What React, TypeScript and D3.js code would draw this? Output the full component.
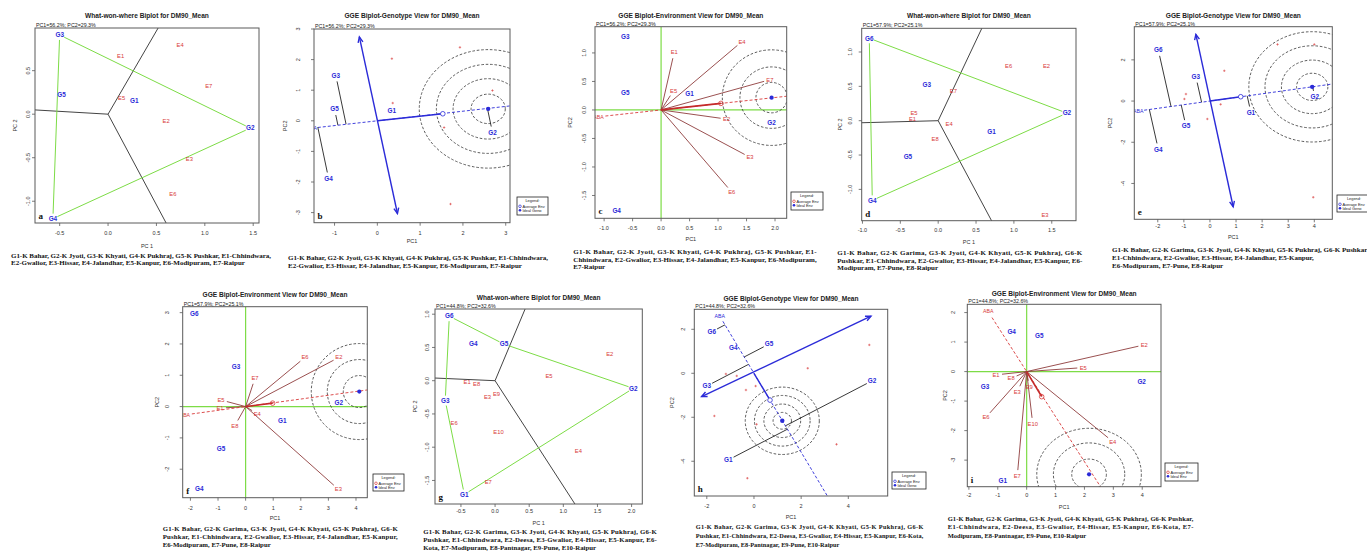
import React from 'react';
import * as d3 from 'd3';

type XY = [number, number];
type Lab = [string, number, number];

const SANS = 'Liberation Sans, Arial, sans-serif';
const SERIF = 'Liberation Serif, Times New Roman, serif';
const BLUE = '#2b2bd8';
const RED = '#d83a3a';
const BROWN = '#8e3c3c';
const GREEN = '#7ddc46';
const GREY = '#444';

const T_WWW = 'What-won-where Biplot for DM90_Mean';
const T_GEN = 'GGE Biplot-Genotype View for DM90_Mean';
const T_ENV = 'GGE Biplot-Environment View for DM90_Mean';
const PC_1 = 'PC1=56.2%; PC2=29.3%';
const PC_2 = 'PC1=57.9%; PC2=25.1%';
const PC_3 = 'PC1=44.8%; PC2=32.6%';

// ---- panel a : what-won-where, trial set 1
const aGeno: Lab[] = [['G3', -0.5, 0.91], ['G5', -0.48, 0.22], ['G1', 0.27, 0.15], ['G2', 1.47, -0.16], ['G4', -0.57, -1.2]];
const aHull = ['G3', 'G2', 'G4'];
const aRays: XY[] = [[0.507, 0.97], [-0.757, 0.049], [0.6, -1.25]];
const aEnv: Lab[] = [['E4', 0.745, 0.8], ['E1', 0.13, 0.67], ['E7', 1.04, 0.32], ['E5', 0.14, 0.19], ['E2', 0.6, -0.08], ['E3', 0.84, -0.52], ['E6', 0.67, -0.92]];

// ---- panel b : genotype view, trial set 1
const bGeno: Lab[] = [['G3', -0.97, 1.48], ['G5', -1.0, 0.38], ['G1', 0.34, 0.34], ['G2', 2.69, -0.38], ['G4', -1.14, -1.88]];
const bAea: XY = [-1.53, -0.24];
const bAvg: XY = [1.53, 0.23];
const bIdeal: XY = [2.59, 0.39];
const bOrd: XY[] = [[-0.42, 2.74], [0.47, -3.03]];
const bEnvPts: XY[] = [[0.34, 2.03], [1.93, 2.4], [0.36, 0.58], [2.69, 0.99], [1.56, -0.22], [1.71, -2.72]];
const bRings = [0.4, 0.82, 1.21, 1.61];

// ---- panel c : environment view, trial set 1
const cEnv: Lab[] = [['E1', 0.23, 1.01], ['E4', 1.42, 1.2], ['E7', 1.91, 0.53], ['E5', 0.22, 0.34], ['E2', 1.15, -0.16], ['E3', 1.56, -0.83], ['E6', 1.24, -1.44]];
const cGeno: Lab[] = [['G3', -0.63, 1.29], ['G5', -0.63, 0.3], ['G1', 0.5, 0.28], ['G2', 1.94, -0.23], ['G4', -0.78, -1.77]];
const cAea: XY = [-1.1, -0.12];
const cAvg: XY = [1.05, 0.115];
const cIdeal: XY = [1.94, 0.216];
const cRings = [0.275, 0.556, 0.865];

// ---- panel d : what-won-where, trial set 2
const dGeno: Lab[] = [['G6', -0.91, 1.2], ['G3', -0.15, 0.52], ['G2', 1.7, 0.11], ['G1', 0.705, -0.16], ['G5', -0.4, -0.53], ['G4', -0.87, -1.16]];
const dHull = ['G6', 'G2', 'G4'];
const dRays: XY[] = [[0.57, 1.33], [-1.01, -0.03], [0.705, -1.456]];
const dEnv: Lab[] = [['E6', 0.93, 0.8], ['E2', 1.43, 0.8], ['E7', 0.2, 0.43], ['E5', -0.32, 0.11], ['E1', -0.34, 0.025], ['E4', 0.145, -0.05], ['E8', -0.04, -0.27], ['E3', 1.41, -1.37]];

// ---- panel e : genotype view, trial set 2
const eGeno: Lab[] = [['G6', -1.98, 2.48], ['G3', -0.54, 1.18], ['G5', -0.92, -1.21], ['G4', -1.98, -2.34], ['G1', 1.57, -0.55], ['G2', 4.02, 0.21]];
const eAea: XY = [-2.75, -0.485];
const eAvg: XY = [1.18, 0.21];
const eIdeal: XY = [3.92, 0.69];
const eOrd: XY[] = [[-0.54, 3.24], [0.89, -5.13]];
const eEnvPts: XY[] = [[2.59, 2.75], [4.0, 2.75], [0.55, 1.47], [-0.92, 0.34], [-0.98, 0.1], [0.41, -0.16], [-0.1, -0.87], [3.96, -4.67]];
const eRings = [0.6, 1.18, 1.81, 2.43];

// ---- panel f : environment view, trial set 2
const fEnv: Lab[] = [['E6', 2.15, 1.57], ['E2', 3.38, 1.57], ['E7', 0.34, 0.91], ['E5', -0.89, 0.21], ['E1', -0.93, -0.05], ['E4', 0.42, -0.23], ['E8', -0.39, -0.61], ['E3', 3.36, -2.64]];
const fGeno: Lab[] = [['G6', -1.86, 2.95], ['G3', -0.35, 1.28], ['G1', 1.33, -0.45], ['G2', 3.38, 0.13], ['G5', -0.89, -1.35], ['G4', -1.68, -2.63]];
const fAea: XY = [-2.2, -0.265];
const fAvg: XY = [0.98, 0.11];
const fIdeal: XY = [4.12, 0.48];
const fRings = [0.58, 1.16, 1.74];

// ---- panel g : what-won-where, trial set 3
const gGeno: Lab[] = [['G6', -0.67, 0.97], ['G4', -0.32, 0.55], ['G5', 0.13, 0.55], ['G3', -0.73, -0.3], ['G2', 2.025, -0.115], ['G1', -0.45, -1.71]];
const gHull = ['G6', 'G5', 'G2', 'G1', 'G3'];
const gRays: XY[] = [[0.44, 1.078], [-0.88, 0.04], [1.17, -1.854]];
const gEnv: Lab[] = [['E2', 1.68, 0.4], ['E5', 0.79, 0.07], ['E1', -0.41, -0.015], ['E8', -0.27, -0.05], ['E3', -0.11, -0.25], ['E9', 0.02, -0.2], ['E6', -0.6, -0.64], ['E10', 0.05, -0.77], ['E4', 1.22, -1.05], ['E7', -0.1, -1.53]];

// ---- panel h : genotype view, trial set 3
const hGeno: Lab[] = [['G6', -1.79, 1.89], ['G4', -0.88, 1.18], ['G5', 0.64, 1.33], ['G3', -2.0, -0.58], ['G2', 5.01, -0.34], ['G1', -1.09, -3.94]];
const hAea: XY = [-1.45, 2.6];
const hAvg: XY = [0.68, -1.22];
const hIdeal: XY = [1.2, -2.16];
const hOrd: XY[] = [[4.96, 2.6], [-2.22, -1.06]];
const hEnvPts: XY[] = [[4.89, 1.29], [2.28, 0.23], [-1.19, -0.03], [-0.73, -0.12], [0.07, -0.58], [-0.34, -0.76], [-1.68, -1.94], [0.11, -2.32], [3.5, -3.23], [-0.28, -4.77]];
const hRings = [0.39, 0.78, 1.18, 1.57];

// ---- panel i : environment view, trial set 3
const iEnv: Lab[] = [['E2', 4.07, 0.905], ['E5', 1.96, 0.135], ['E1', -1.06, -0.11], ['E8', -0.54, -0.23], ['E9', 0.09, -0.51], ['E3', -0.325, -0.68], ['E6', -1.41, -1.55], ['E10', 0.21, -1.77], ['E7', -0.325, -3.54], ['E4', 2.98, -2.37]];
const iGeno: Lab[] = [['G4', -0.52, 1.36], ['G5', 0.44, 1.22], ['G3', -1.44, -0.51], ['G2', 3.98, -0.34], ['G1', -0.83, -3.69]];
const iAea: XY = [-1.33, 2.03];
const iAvg: XY = [0.52, -0.85];
const iIdeal: XY = [2.16, -3.48];
const iRings = [0.6, 1.235, 1.81];

// ---- captions
const capAB = ['G1-K Bahar, G2-K Jyoti, G3-K Khyati, G4-K Pukhraj, G5-K Pushkar, E1-Chhindwara,', 'E2-Gwalior, E3-Hissar, E4-Jalandhar, E5-Kanpur, E6-Modipuram, E7-Raipur'];
const capC = ['G1-K Bahar, G2-K Jyoti, G3-K Khyati, G4-K Pukhraj, G5-K Pushkar, E1-', 'Chhindwara, E2-Gwalior, E3-Hissar, E4-Jalandhar, E5-Kanpur, E6-Modipuram,', 'E7-Raipur'];
const capD = ['G1-K Bahar, G2-K Garima, G3-K Jyoti, G4-K Khyati, G5-K Pukhraj, G6-K', 'Pushkar, E1-Chhindwara, E2-Gwalior, E3-Hissar, E4-Jalandhar, E5-Kanpur, E6-', 'Modipuram, E7-Pune, E8-Raipur'];
const capE = ['G1-K Bahar, G2-K Garima, G3-K Jyoti, G4-K Khyati, G5-K Pukhraj, G6-K Pushkar', 'E1-Chhindwara, E2-Gwalior, E3-Hissar, E4-Jalandhar, E5-Kanpur,', 'E6-Modipuram, E7-Pune, E8-Raipur'];
const capF = ['G1-K Bahar, G2-K Garima, G3-K Jyoti, G4-K Khyati, G5-K Pukhraj, G6-K', 'Pushkar, E1-Chhindwara, E2-Gwalior, E3-Hissar, E4-Jalandhar, E5-Kanpur,', 'E6-Modipuram, E7-Pune, E8-Raipur'];
const capG = ['G1-K Bahar, G2-K Garima, G3-K Jyoti, G4-K Khyati, G5-K Pukhraj, G6-K', 'Pushkar, E1-Chhindwara, E2-Deesa, E3-Gwalior, E4-Hissar, E5-Kanpur, E6-', 'Kota, E7-Modipuram, E8-Pantnagar, E9-Pune, E10-Raipur'];
const capH = ['G1-K Bahar, G2-K Garima, G3-K Jyoti, G4-K Khyati, G5-K Pukhraj, G6-K', 'Pushkar, E1-Chhindwara, E2-Deesa, E3-Gwalior, E4-Hissar, E5-Kanpur, E6-Kota,', 'E7-Modipuram, E8-Pantnagar, E9-Pune, E10-Raipur'];
const capI = ['G1-K Bahar, G2-K Garima, G3-K Jyoti, G4-K Khyati, G5-K Pukhraj, G6-K Pushkar,', 'E1-Chhindwara, E2-Deesa, E3-Gwalior, E4-Hissar, E5-Kanpur, E6-Kota, E7-', 'Modipuram, E8-Pantnagar, E9-Pune, E10-Raipur'];

// ---- layout (pixels)
const LAY: any = {
  a: { box: [35, 28, 259, 223], xd: [-0.755, 1.56], yd: [-1.25, 0.99], xt: [-0.5, 0, 0.5, 1, 1.5], yt: [-1, -0.5, 0, 0.5], dec: true, xlab: 'PC 1', ylab: 'PC 2', title: T_WWW, pc: PC_1, xtY: 233, ytX: 28, xlY: 246.5, ylX: 15, tY: 16, letter: 'a' },
  b: { box: [314, 29, 510, 222.7], xd: [-1.48, 3.1], yd: [-3.33, 3.0], xt: [-1, 0, 1, 2, 3], yt: [-3, -2, -1, 0, 1, 2, 3], dec: false, xlab: 'PC1', ylab: 'PC2', title: T_GEN, pc: PC_1, xtY: 233, ytX: 298, xlY: 241, ylX: 285, tY: 16, letter: 'b' },
  c: { box: [595, 26.7, 786.7, 218.3], xd: [-1.16, 2.205], yd: [-1.9, 1.46], xt: [-1, -0.5, 0, 0.5, 1, 1.5, 2], yt: [-1.5, -1, -0.5, 0, 0.5, 1], dec: true, xlab: 'PC1', ylab: 'PC2', title: T_ENV, pc: PC_1, xtY: 227.7, ytX: 584, xlY: 239.5, ylX: 570, tY: 15.7, letter: 'c' },
  d: { box: [861.7, 28.3, 1076, 220.7], xd: [-1.01, 1.82], yd: [-1.456, 1.345], xt: [-1, -0.5, 0, 0.5, 1, 1.5], yt: [-1, -0.5, 0, 0.5, 1], dec: true, xlab: 'PC 1', ylab: 'PC 2', title: T_WWW, pc: PC_2, xtY: 230, ytX: 850, xlY: 242, ylX: 840, tY: 16, letter: 'd' },
  e: { box: [1134.3, 26.7, 1332.3, 219.3], xd: [-2.9, 4.69], yd: [-5.74, 3.61], xt: [-2, -1, 0, 1, 2, 3, 4], yt: [-4, -2, 0, 2], dec: false, xlab: 'PC1', ylab: 'PC2', title: T_GEN, pc: PC_2, xtY: 226, ytX: 1123.3, xlY: 236.7, ylX: 1110, tY: 15.7, letter: 'e' },
  f: { box: [182.7, 306.7, 367.3, 497.7], xd: [-2.28, 4.41], yd: [-2.91, 3.19], xt: [-2, -1, 0, 1, 2, 3, 4], yt: [-2, -1, 0, 1, 2, 3], dec: false, xlab: 'PC1', ylab: 'PC2', title: T_ENV, pc: PC_2, xtY: 508.3, ytX: 167.3, xlY: 518.3, ylX: 157.3, tY: 294.3, letter: 'f' },
  g: { box: [435, 309, 642.3, 504], xd: [-0.88, 2.157], yd: [-1.854, 1.078], xt: [-0.5, 0, 0.5, 1, 1.5, 2], yt: [-1.5, -1, -0.5, 0, 0.5, 1], dec: true, xlab: 'PC 1', ylab: 'PC 2', title: T_WWW, pc: PC_3, xtY: 510.7, ytX: 426.7, xlY: 523.3, ylX: 415, tY: 297.7, letter: 'g' },
  h: { box: [694.3, 309.3, 887.7, 496], xd: [-2.53, 5.67], yd: [-5.58, 2.91], xt: [-2, 0, 2, 4], yt: [-4, -2, 0, 2], dec: false, xlab: 'PC1', ylab: 'PC2', title: T_GEN, pc: PC_3, xtY: 506, ytX: 683.3, xlY: 516.7, ylX: 672.3, tY: 298.3, letter: 'h' },
  i: { box: [967.3, 304.3, 1161, 486.7], xd: [-2.055, 4.65], yd: [-3.9, 2.28], xt: [-2, -1, 0, 1, 2, 3, 4], yt: [-3, -2, -1, 0, 1, 2], dec: false, xlab: 'PC1', ylab: 'PC2', title: T_ENV, pc: PC_3, xtY: 495, ytX: 953.3, xlY: 506.7, ylX: 945, tY: 293.3, letter: 'i' },
};

const CAPS = [
  { lines: capAB, x: 11, w: 260, ys: [257.5, 265], fs: 7, just: true },
  { lines: capAB, x: 288, w: 260, ys: [260, 267.5], fs: 7, just: true },
  { lines: capC, x: 573.3, w: 243.4, ys: [253.8, 261.5, 268.8], fs: 7, just: true },
  { lines: capD, x: 837.3, w: 245, ys: [254.5, 262.5, 270], fs: 7, just: true },
  { lines: capE, x: 1112, w: 0, ys: [252, 259.5, 267.5], fs: 7, just: false },
  { lines: capF, x: 162.7, w: 235, ys: [530.8, 538.5, 546.5], fs: 6.8, just: true },
  { lines: capG, x: 423.3, w: 233.4, ys: [534, 542.3, 549.8], fs: 6.8, just: true },
  { lines: capH, x: 695.7, w: 227.6, ys: [529, 537.8, 546.5], fs: 6.3, just: true },
  { lines: capI, x: 947.7, w: 245.6, ys: [520.8, 529.2, 537.5], fs: 6.5, just: true },
];

function trim(a: XY, b: XY, ga: number, gb: number) {
  const dx = b[0] - a[0], dy = b[1] - a[1];
  const L = Math.hypot(dx, dy) || 1;
  return { x1: a[0] + (dx * ga) / L, y1: a[1] + (dy * ga) / L, x2: b[0] - (dx * gb) / L, y2: b[1] - (dy * gb) / L };
}

function head(tip: XY, from: XY, len = 6, ang = 0.42) {
  const a = Math.atan2(tip[1] - from[1], tip[0] - from[0]);
  const p1 = [tip[0] - len * Math.cos(a - ang), tip[1] - len * Math.sin(a - ang)];
  const p2 = [tip[0] - len * Math.cos(a + ang), tip[1] - len * Math.sin(a + ang)];
  return `M${p1[0]},${p1[1]}L${tip[0]},${tip[1]}L${p2[0]},${p2[1]}`;
}

function Panel({ L, children }: { L: any; children: (x: any, y: any) => React.ReactNode }) {
  const [x0, y0, x1, y1] = L.box;
  const x = d3.scaleLinear().domain(L.xd).range([x0, x1]);
  const y = d3.scaleLinear().domain(L.yd).range([y1, y0]);
  const fmt = (v: number) => (L.dec ? v.toFixed(1) : String(v));
  const cx = (x0 + x1) / 2, cy = (y0 + y1) / 2;
  const id = 'clip-' + L.letter;
  return (
    <g fontFamily={SANS}>
      <clipPath id={id}>
        <rect x={x0} y={y0} width={x1 - x0} height={y1 - y0} />
      </clipPath>
      <g clipPath={`url(#${id})`}>{children(x, y)}</g>
      <rect x={x0} y={y0} width={x1 - x0} height={y1 - y0} fill="none" stroke="#5a5a5a" strokeWidth={1} />
      {L.xt.map((v: number) => (
        <g key={'x' + v}>
          <line x1={x(v)} x2={x(v)} y1={y1} y2={y1 + 3} stroke="#5a5a5a" strokeWidth={0.8} />
          <text x={x(v)} y={L.xtY} dy="0.35em" textAnchor="middle" fontSize={5.5} fill="#333">{fmt(v)}</text>
        </g>
      ))}
      {L.yt.map((v: number) => (
        <g key={'y' + v}>
          <line x1={x0 - 3} x2={x0} y1={y(v)} y2={y(v)} stroke="#5a5a5a" strokeWidth={0.8} />
          <text transform={`translate(${L.ytX},${y(v)}) rotate(-90)`} dy="0.35em" textAnchor="middle" fontSize={5.5} fill="#333">{fmt(v)}</text>
        </g>
      ))}
      <text x={cx} y={L.tY} dy="0.35em" textAnchor="middle" fontWeight="bold" fontSize={6.6} fill="#222">{L.title}</text>
      <text x={x0 + 1} y={y0 - 3} dy="0.35em" fontSize={5.3} fill="#222">{L.pc}</text>
      <text x={cx} y={L.xlY} dy="0.35em" textAnchor="middle" fontSize={5.5} fill="#333">{L.xlab}</text>
      <text transform={`translate(${L.ylX},${cy}) rotate(-90)`} dy="0.35em" textAnchor="middle" fontSize={5.5} fill="#333">{L.ylab}</text>
      <text x={x0 + 3.5} y={y1 - 4} fontFamily={SERIF} fontWeight="bold" fontSize={9} fill="#111">{L.letter}</text>
    </g>
  );
}

function GLabels({ pts, x, y }: any) {
  return pts.map((p: Lab) => (
    <text key={p[0]} x={x(p[1])} y={y(p[2])} dy="0.35em" textAnchor="middle" fontWeight="bold" fontSize={6.4} fill={BLUE}>{p[0]}</text>
  ));
}
function ELabels({ pts, x, y }: any) {
  return pts.map((p: Lab) => (
    <text key={p[0]} x={x(p[1])} y={y(p[2])} dy="0.35em" textAnchor="middle" fontSize={5.8} fill={RED}>{p[0]}</text>
  ));
}

function Legend({ x, y, w, h, avg, ideal }: any) {
  return (
    <g fontFamily={SANS} fontSize={3.9} fill="#222">
      <rect x={x} y={y} width={w} height={h} fill="#fff" stroke="#222" strokeWidth={0.8} />
      <text x={x + w / 2} y={y + 5}>{''}</text>
      <text x={x + w / 2} y={y + 5.2} textAnchor="middle">Legend:</text>
      <circle cx={x + 3} cy={y + 9.3} r={1.3} fill="none" stroke={avg} strokeWidth={0.7} />
      <text x={x + 5.5} y={y + 10.6}>Average Env</text>
      <circle cx={x + 3} cy={y + 13.3} r={1.3} fill={BLUE} />
      <text x={x + 5.5} y={y + 14.6}>{ideal}</text>
    </g>
  );
}

function WWW({ L, geno, hull, rays, env }: any) {
  return (
    <Panel L={L}>
      {(x: any, y: any) => {
        const pos = (n: string): XY => {
          const g = geno.find((d: Lab) => d[0] === n);
          return [x(g[1]), y(g[2])];
        };
        const o: XY = [x(0), y(0)];
        return (
          <g>
            {rays.map((r: XY, i: number) => (
              <line key={'r' + i} x1={o[0]} y1={o[1]} x2={x(r[0] * 3)} y2={y(r[1] * 3)} stroke={GREY} strokeWidth={1} />
            ))}
            {hull.map((n: string, i: number) => {
              const t = trim(pos(n), pos(hull[(i + 1) % hull.length]), 5, 5);
              return <line key={'h' + i} {...t} stroke={GREEN} strokeWidth={1} />;
            })}
            <ELabels pts={env} x={x} y={y} />
            <GLabels pts={geno} x={x} y={y} />
          </g>
        );
      }}
    </Panel>
  );
}

function GenoView({ L, geno, aea, avg, ideal, ord, envPts, rings, ratio, legend }: any) {
  return (
    <g>
      <Panel L={L}>
        {(x: any, y: any) => {
          const o: XY = [x(0), y(0)];
          const len = Math.hypot(avg[0], avg[1]);
          const u = [avg[0] / len, avg[1] / len];
          const far: XY = [x(-aea[0] * 10), y(-aea[1] * 10)];
          const a0: XY = [x(aea[0]), y(aea[1])];
          const s: XY = [x(ord[0][0]), y(ord[0][1])];
          const e: XY = [x(ord[1][0]), y(ord[1][1])];
          const ic: XY = [x(ideal[0]), y(ideal[1])];
          return (
            <g>
              {rings.map((r: number, i: number) => {
                const rx = x(ideal[0] + r) - ic[0];
                return <ellipse key={'c' + i} cx={ic[0]} cy={ic[1]} rx={rx} ry={rx * ratio} fill="none" stroke="#333" strokeWidth={0.8} strokeDasharray="2.6,1.8" />;
              })}
              <line {...trim(a0, far, 6, 0)} stroke={BLUE} strokeWidth={0.9} strokeDasharray="3,2" />
              <line x1={o[0]} y1={o[1]} x2={x(avg[0])} y2={y(avg[1])} stroke={BLUE} strokeWidth={1.4} />
              <line x1={s[0]} y1={s[1]} x2={e[0]} y2={e[1]} stroke={BLUE} strokeWidth={1.4} />
              <path d={head(s, e)} fill="none" stroke={BLUE} strokeWidth={1.4} />
              <path d={head(e, s)} fill="none" stroke={BLUE} strokeWidth={1.4} />
              {geno.map((g: Lab) => {
                const t = g[1] * u[0] + g[2] * u[1];
                const gp: XY = [x(g[1]), y(g[2])];
                const fp: XY = [x(t * u[0]), y(t * u[1])];
                if (Math.hypot(gp[0] - fp[0], gp[1] - fp[1]) < 9) return null;
                return <line key={'p' + g[0]} {...trim(gp, fp, 6, 0)} stroke="#222" strokeWidth={0.9} />;
              })}
              {envPts.map((p: XY, i: number) => (
                <path key={'m' + i} d={`M${x(p[0]) - 1.2},${y(p[1])}h2.4M${x(p[0])},${y(p[1]) - 1.2}v2.4`} stroke={RED} strokeWidth={0.6} />
              ))}
              <circle cx={x(avg[0])} cy={y(avg[1])} r={2.3} fill="#fff" stroke={BLUE} strokeWidth={0.8} />
              <circle cx={ic[0]} cy={ic[1]} r={2.2} fill={BLUE} />
              <text x={a0[0]} y={a0[1]} dy="0.35em" textAnchor="middle" fontSize={5.2} fill={BLUE}>ABA</text>
              <GLabels pts={geno} x={x} y={y} />
            </g>
          );
        }}
      </Panel>
      <Legend {...legend} avg={BLUE} ideal="Ideal Geno" />
    </g>
  );
}

function EnvView({ L, geno, env, aea, avg, ideal, rings, ratio, legend }: any) {
  return (
    <g>
      <Panel L={L}>
        {(x: any, y: any) => {
          const o: XY = [x(0), y(0)];
          const far: XY = [x(-aea[0] * 10), y(-aea[1] * 10)];
          const a0: XY = [x(aea[0]), y(aea[1])];
          const ic: XY = [x(ideal[0]), y(ideal[1])];
          return (
            <g>
              <line x1={x(0)} x2={x(0)} y1={y(L.yd[0])} y2={y(L.yd[1])} stroke={GREEN} strokeWidth={1.2} />
              <line x1={x(L.xd[0])} x2={x(L.xd[1])} y1={y(0)} y2={y(0)} stroke={GREEN} strokeWidth={1.2} />
              {rings.map((r: number, i: number) => {
                const rx = x(ideal[0] + r) - ic[0];
                return <ellipse key={'c' + i} cx={ic[0]} cy={ic[1]} rx={rx} ry={rx * ratio} fill="none" stroke="#333" strokeWidth={0.8} strokeDasharray="2.6,1.8" />;
              })}
              {env.map((p: Lab) => (
                <line key={'v' + p[0]} {...trim(o, [x(p[1]), y(p[2])], 0, 6)} stroke={BROWN} strokeWidth={0.9} />
              ))}
              <line {...trim(a0, far, 7, 0)} stroke={RED} strokeWidth={0.9} strokeDasharray="3,2" />
              <line x1={o[0]} y1={o[1]} x2={x(avg[0])} y2={y(avg[1])} stroke="#c42a2a" strokeWidth={1.7} />
              <circle cx={x(avg[0])} cy={y(avg[1])} r={2.3} fill="none" stroke={RED} strokeWidth={0.8} />
              <circle cx={ic[0]} cy={ic[1]} r={2.1} fill={BLUE} />
              <text x={a0[0]} y={a0[1]} dy="0.35em" textAnchor="middle" fontSize={5.2} fill={RED}>ABA</text>
              <ELabels pts={env} x={x} y={y} />
              <GLabels pts={geno} x={x} y={y} />
            </g>
          );
        }}
      </Panel>
      <Legend {...legend} avg={RED} ideal="Ideal Env" />
    </g>
  );
}

function Caption({ c }: any) {
  return (
    <g fontFamily={SERIF} fontWeight="bold" fontSize={c.fs} fill="#111">
      {c.lines.map((t: string, i: number) => {
        const justify = c.just && i < c.lines.length - 1;
        return (
          <text key={i} x={c.x} y={c.ys[i]} {...(justify ? { textLength: c.w, lengthAdjust: 'spacing' } : {})}>{t}</text>
        );
      })}
    </g>
  );
}

export default function App() {
  return (
    <svg width={1367} height={551} style={{ position: 'absolute', left: 0, top: 0, background: '#fff' }}>
      <rect width={1367} height={551} fill="#fff" />
      <WWW L={LAY.a} geno={aGeno} hull={aHull} rays={aRays} env={aEnv} />
      <GenoView L={LAY.b} geno={bGeno} aea={bAea} avg={bAvg} ideal={bIdeal} ord={bOrd} envPts={bEnvPts} rings={bRings} ratio={0.86} legend={{ x: 517, y: 197, w: 31, h: 18 }} />
      <EnvView L={LAY.c} geno={cGeno} env={cEnv} aea={cAea} avg={cAvg} ideal={cIdeal} rings={cRings} ratio={0.97} legend={{ x: 791, y: 192, w: 32, h: 18 }} />
      <WWW L={LAY.d} geno={dGeno} hull={dHull} rays={dRays} env={dEnv} />
      <GenoView L={LAY.e} geno={eGeno} aea={eAea} avg={eAvg} ideal={eIdeal} ord={eOrd} envPts={eEnvPts} rings={eRings} ratio={0.87} legend={{ x: 1337, y: 195, w: 34, h: 17 }} />
      <EnvView L={LAY.f} geno={fGeno} env={fEnv} aea={fAea} avg={fAvg} ideal={fIdeal} rings={fRings} ratio={1.0} legend={{ x: 373, y: 474, w: 31, h: 17 }} />
      <WWW L={LAY.g} geno={gGeno} hull={gHull} rays={gRays} env={gEnv} />
      <GenoView L={LAY.h} geno={hGeno} aea={hAea} avg={hAvg} ideal={hIdeal} ord={hOrd} envPts={hEnvPts} rings={hRings} ratio={0.91} legend={{ x: 892, y: 472, w: 34, h: 17 }} />
      <EnvView L={LAY.i} geno={iGeno} env={iEnv} aea={iAea} avg={iAvg} ideal={iIdeal} rings={iRings} ratio={0.88} legend={{ x: 1165, y: 463, w: 33, h: 18 }} />
      {CAPS.map((c, i) => (
        <Caption key={i} c={c} />
      ))}
    </svg>
  );
}
